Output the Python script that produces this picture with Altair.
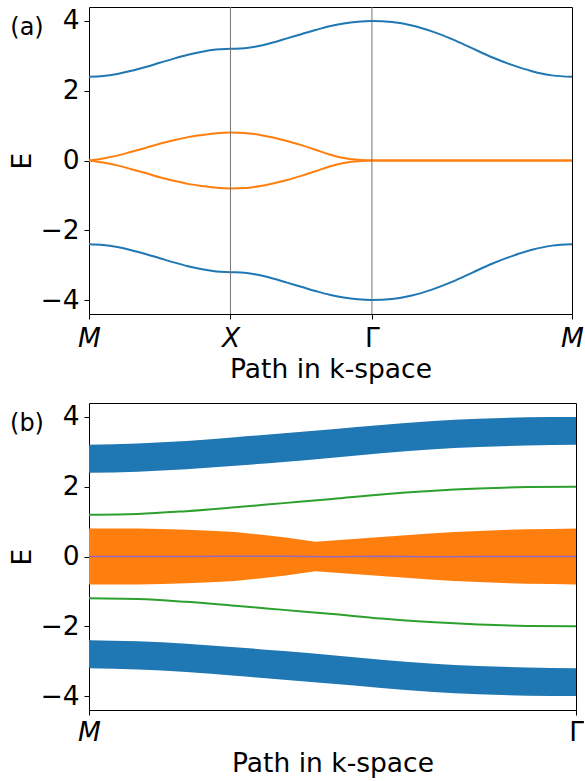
import altair as alt
import pandas as pd

FONT = "DejaVu Sans"
FS = 26.5
BLUE, ORANGE, GREEN, PURPLE = "#1f77b4", "#ff7f0e", "#2ca02c", "#9467bd"

# ---------------- Panel (a): band structure along M - X - Gamma - M ----------------
ticks_a = [0.0, 1.0, 2.0, 3.41421]          # positions of M, X, Gamma, M on the path
tick_names_a = ["M", "X", "Γ", "M"]
frac = [0.0, 0.1, 0.2, 0.3, 0.4, 0.5, 0.6, 0.7, 0.8, 0.9, 1.0]  # sample points within a segment

# upper blue band, per segment
blue_up = [
    [2.40, 2.42, 2.48, 2.57, 2.68, 2.80, 2.92, 3.03, 3.12, 3.18, 3.20],   # M -> X
    [3.20, 3.22, 3.28, 3.38, 3.50, 3.62, 3.74, 3.85, 3.93, 3.98, 4.00],   # X -> Gamma
    [4.00, 3.97, 3.87, 3.70, 3.48, 3.22, 2.96, 2.74, 2.56, 2.44, 2.40],   # Gamma -> M
]
blue_dn = [
    [-2.40, -2.42, -2.48, -2.57, -2.68, -2.80, -2.92, -3.03, -3.12, -3.18, -3.20],
    [-3.20, -3.22, -3.28, -3.38, -3.50, -3.62, -3.74, -3.85, -3.93, -3.98, -4.00],
    [-4.00, -3.97, -3.87, -3.70, -3.48, -3.22, -2.96, -2.74, -2.56, -2.44, -2.40],
]
orange_up = [
    [0.00, 0.06, 0.14, 0.25, 0.36, 0.48, 0.58, 0.67, 0.73, 0.78, 0.80],
    [0.80, 0.79, 0.74, 0.66, 0.56, 0.44, 0.31, 0.17, 0.07, 0.02, 0.00],
    [0.00, 0.00, 0.00, 0.00, 0.00, 0.00, 0.00, 0.00, 0.00, 0.00, 0.00],
]
orange_dn = [
    [0.00, -0.06, -0.14, -0.25, -0.36, -0.48, -0.58, -0.67, -0.73, -0.78, -0.80],
    [-0.80, -0.79, -0.74, -0.66, -0.56, -0.44, -0.31, -0.17, -0.07, -0.02, 0.00],
    [0.00, 0.00, 0.00, 0.00, 0.00, 0.00, 0.00, 0.00, 0.00, 0.00, 0.00],
]

rows_a = []
for name, segs in [("bu", blue_up), ("bd", blue_dn), ("ou", orange_up), ("od", orange_dn)]:
    idx = 0
    for si, seg in enumerate(segs):
        k0, k1 = ticks_a[si], ticks_a[si + 1]
        for j, (f, e) in enumerate(zip(frac, seg)):
            if si > 0 and j == 0:
                continue
            rows_a.append({"series": name, "k": k0 + f * (k1 - k0), "E": e, "i": idx})
            idx += 1
df_a = pd.DataFrame(rows_a)

label_expr_a = ("datum.value < 0.5 ? 'M' : datum.value < 1.5 ? 'X' : "
                "datum.value < 2.5 ? 'Γ' : 'M'")
style_a = {"condition": {"test": "datum.value > 1.5 && datum.value < 2.5", "value": "normal"},
           "value": "italic"}

x_a = alt.X("k:Q", scale=alt.Scale(domain=[ticks_a[0], ticks_a[-1]], nice=False, zero=False),
            axis=alt.Axis(values=ticks_a, labelExpr=label_expr_a, labelFontStyle=style_a,
                          title="Path in k-space", labelPadding=6, titlePadding=5,
                          labelFlush=False, labelOverlap=False))
y_axis = alt.Axis(values=[-4, -2, 0, 2, 4], title="E", labelPadding=5, titlePadding=3)
y_a = alt.Y("E:Q", scale=alt.Scale(domain=[-4.4, 4.4], nice=False), axis=y_axis)

vlines = alt.Chart(pd.DataFrame({"k": ticks_a[1:3]})).mark_rule(
    color="#757575", strokeWidth=1).encode(x=alt.X("k:Q"))
lines_a = alt.Chart(df_a).mark_line(strokeWidth=2, interpolate="monotone").encode(
    x=x_a, y=y_a,
    color=alt.Color("series:N", scale=alt.Scale(domain=["bu", "bd", "ou", "od"],
                                                range=[BLUE, BLUE, ORANGE, ORANGE]),
                    legend=None),
    order="i:Q")
tag_a = alt.Chart(pd.DataFrame({"t": ["(a)"]})).mark_text(
    font=FONT, fontSize=24, align="center", baseline="middle", color="black").encode(
    text="t:N", x=alt.value(-62), y=alt.value(21))

panel_a = alt.layer(lines_a, vlines, tag_a).properties(width=483, height=307)

# ---------------- Panel (b): projected bands along M - Gamma ----------------
s_grid = [0.0, 0.1, 0.2, 0.3, 0.4, 0.5, 0.6, 0.7, 0.8, 0.9, 1.0]
blue_b_top = [3.20, 3.24, 3.31, 3.42, 3.53, 3.65, 3.77, 3.88, 3.95, 3.99, 4.00]
blue_b_bot = [2.40, 2.43, 2.50, 2.60, 2.71, 2.83, 2.96, 3.07, 3.14, 3.18, 3.20]
blue_b_top_neg = [-2.40, -2.43, -2.50, -2.60, -2.71, -2.83, -2.96, -3.07, -3.14, -3.18, -3.20]
blue_b_bot_neg = [-3.20, -3.24, -3.31, -3.42, -3.53, -3.65, -3.77, -3.88, -3.95, -3.99, -4.00]
green_up = [1.20, 1.22, 1.30, 1.41, 1.53, 1.65, 1.78, 1.88, 1.95, 1.99, 2.00]
green_dn = [-1.20, -1.22, -1.30, -1.41, -1.53, -1.65, -1.78, -1.88, -1.95, -1.99, -2.00]
purple = [0.0, 0.0, 0.0, 0.005, 0.01, -0.01, 0.01, -0.005, 0.0, 0.0, 0.0]

s_orange = [0.0, 0.05, 0.1, 0.15, 0.2, 0.25, 0.3, 0.35, 0.4, 0.465, 0.5, 0.55, 0.6,
            0.65, 0.7, 0.75, 0.8, 0.85, 0.9, 0.95, 1.0]
orange_b_top = [0.80, 0.80, 0.80, 0.79, 0.77, 0.74, 0.70, 0.63, 0.55, 0.42, 0.46, 0.51,
                0.56, 0.61, 0.66, 0.70, 0.73, 0.76, 0.78, 0.79, 0.80]
orange_b_bot = [-0.80, -0.80, -0.80, -0.79, -0.77, -0.74, -0.70, -0.63, -0.55, -0.42, -0.46,
                -0.51, -0.56, -0.61, -0.66, -0.70, -0.73, -0.76, -0.78, -0.79, -0.80]

df_blue = pd.DataFrame(
    [{"band": "up", "s": s, "top": t, "bot": b} for s, t, b in zip(s_grid, blue_b_top, blue_b_bot)] +
    [{"band": "dn", "s": s, "top": t, "bot": b} for s, t, b in zip(s_grid, blue_b_top_neg, blue_b_bot_neg)])
df_orange = pd.DataFrame({"s": s_orange, "top": orange_b_top, "bot": orange_b_bot})
df_green = pd.DataFrame(
    [{"series": "gu", "s": s, "E": e} for s, e in zip(s_grid, green_up)] +
    [{"series": "gd", "s": s, "E": e} for s, e in zip(s_grid, green_dn)])
df_purple = pd.DataFrame({"s": s_grid, "E": purple})

ticks_b = [0.0, 1.0]
label_expr_b = "datum.value < 0.5 ? 'M' : 'Γ'"
style_b = {"condition": {"test": "datum.value < 0.5", "value": "italic"}, "value": "normal"}
x_b = alt.X("s:Q", scale=alt.Scale(domain=[0, 1], nice=False, zero=False),
            axis=alt.Axis(values=ticks_b, labelExpr=label_expr_b, labelFontStyle=style_b,
                          title="Path in k-space", labelPadding=4, titlePadding=5,
                          labelFlush=False, labelOverlap=False))
y_b_scale = alt.Scale(domain=[-4.4, 4.4], nice=False)

blue_area = alt.Chart(df_blue).mark_area(color=BLUE, interpolate="monotone").encode(
    x=x_b, y=alt.Y("top:Q", scale=y_b_scale, axis=y_axis), y2="bot:Q", detail="band:N")
orange_area = alt.Chart(df_orange).mark_area(color=ORANGE, interpolate="linear").encode(
    x="s:Q", y=alt.Y("top:Q", scale=y_b_scale), y2="bot:Q")
green_lines = alt.Chart(df_green).mark_line(color=GREEN, strokeWidth=2, interpolate="monotone").encode(
    x="s:Q", y=alt.Y("E:Q", scale=y_b_scale), detail="series:N")
purple_line = alt.Chart(df_purple).mark_line(color=PURPLE, strokeWidth=1.5).encode(
    x="s:Q", y=alt.Y("E:Q", scale=y_b_scale))
tag_b = alt.Chart(pd.DataFrame({"t": ["(b)"]})).mark_text(
    font=FONT, fontSize=24, align="center", baseline="middle", color="black").encode(
    text="t:N", x=alt.value(-62), y=alt.value(21))

panel_b = alt.layer(blue_area, orange_area, green_lines, purple_line, tag_b).properties(
    width=487, height=307)

chart = alt.vconcat(panel_a, panel_b, spacing=18).properties(
    padding={"left": 9, "top": 6, "right": 0, "bottom": 0}
).configure_view(stroke="black", strokeWidth=1).configure_axis(
    labelFont=FONT, titleFont=FONT, labelFontSize=FS, titleFontSize=FS,
    labelColor="black", titleColor="black", tickColor="black", tickSize=5, tickWidth=1,
    titleFontWeight="normal", grid=False, domain=False
).configure_concat(spacing=18)

chart.save("out.html", embed_options={"renderer": "svg", "actions": False})
